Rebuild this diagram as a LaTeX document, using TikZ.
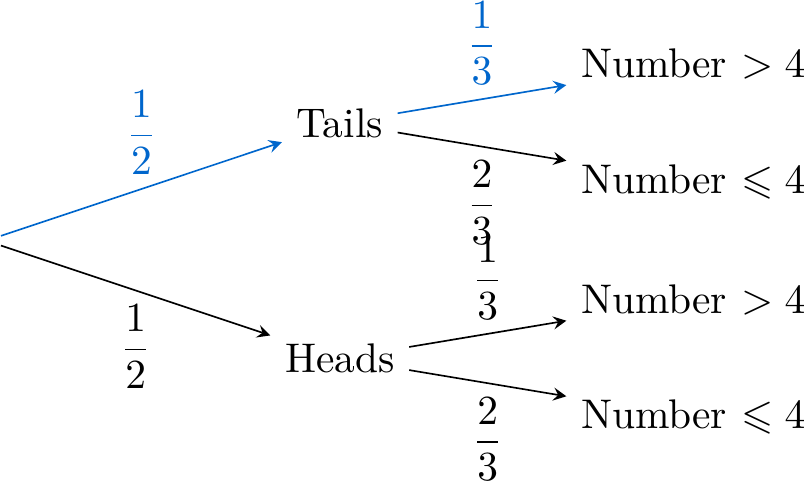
\documentclass[tikz,border=0pt]{standalone}
\usepackage{amsmath,amssymb}
\usetikzlibrary{arrows}
\definecolor{myblue}{RGB}{0,102,204}
\begin{document}
\begin{tikzpicture}[
  edgeline/.style={-stealth},
  hl/.style={myblue}
]
\useasboundingbox (0.116,-2.058) rectangle (6.966,2.043);
\node (r) at (0,0) {};
\node (t) at (3,1) {Tails};
\node (h) at (3,-1) {Heads};
\node (t1) at (6,1.5) {Number $>4$};
\node (t2) at (6,0.5) {Number $\leqslant 4$};
\node (h1) at (6,-0.5) {Number $>4$};
\node (h2) at (6,-1.5) {Number $\leqslant 4$};
\draw[edgeline,hl] (r) -- node[above] {$\dfrac{1}{2}$} (t);
\draw[edgeline] (r) -- node[below] {$\dfrac{1}{2}$} (h);
\draw[edgeline,hl] (t) -- node[above] {$\dfrac{1}{3}$} (t1);
\draw[edgeline] (t) -- node[below] {$\dfrac{2}{3}$} (t2);
\draw[edgeline] (h) -- node[above] {$\dfrac{1}{3}$} (h1);
\draw[edgeline] (h) -- node[below] {$\dfrac{2}{3}$} (h2);
\end{tikzpicture}
\end{document}
